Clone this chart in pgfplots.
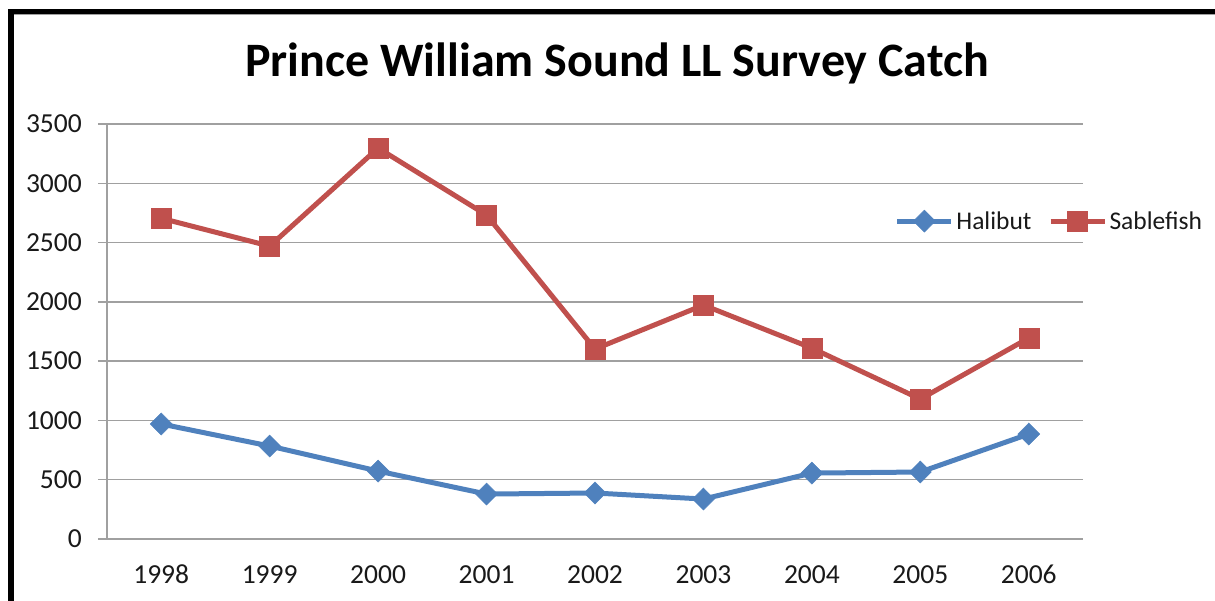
\documentclass[border=0pt]{standalone}
\usepackage{pgfplots}
\pgfplotsset{compat=1.18}
\usepackage{fontspec}
\setmainfont{Carlito}
\definecolor{hal}{RGB}{79,129,189}
\definecolor{sab}{RGB}{192,80,77}
\definecolor{gridc}{RGB}{160,160,160}
\begin{document}
\begin{tikzpicture}
\useasboundingbox (0,0) rectangle (1215bp,-601bp);
\clip (0,0) rectangle (1215bp,-601bp);
\begin{axis}[
  at={(107bp,-539bp)}, anchor=south west,
  scale only axis, width=976bp, height=415bp,
  xmin=-0.5, xmax=8.5, ymin=0, ymax=3500,
  xtick={0,...,8},
  xticklabels={1998,1999,2000,2001,2002,2003,2004,2005,2006},
  minor xtick={-0.5,0.5,...,8.5},
  ytick={0,500,...,3500},
  axis x line*=bottom, axis y line*=left,
  axis line style={gridc, line width=1.3bp, -},
  ymajorgrids, grid style={gridc, line width=1.3bp},
  tick align=outside,
  major tick length=9bp, minor tick length=10bp,
  every x tick/.style={draw=none},
  every minor tick/.style={gridc, line width=1.3bp},
  every y tick/.style={gridc, line width=1.3bp},
  /pgf/number format/assume math mode=true,
  scaled y ticks=false,
  yticklabel style={font=\fontsize{27.5bp}{31bp}\selectfont, color=black!90, inner sep=0pt, xshift=-16bp, anchor=east},
  xticklabel style={font=\fontsize{27.5bp}{31bp}\selectfont, color=black!90, inner sep=0pt, anchor=base, yshift=-35bp},
  y tick label style={/pgf/number format/1000 sep={}},
  legend columns=2,
  legend style={at={(rel axis cs:0.804,0.766)}, anchor=west, draw=none, fill=none,
    font=\fontsize{25.5bp}{29bp}\selectfont, text=black!90,
    nodes={inner sep=2.5bp},
    /tikz/every even column/.append style={column sep=14bp}},
  legend image code/.code={\draw[mark repeat=2,mark phase=2,#1] plot coordinates {(0bp,0bp)(27bp,0bp)(54bp,0bp)};},
]
\addplot[hal, line width=5bp, mark=diamond*, mark size=11bp, mark options={xscale=1.33, solid, fill=hal, draw=hal, line width=0.5bp}]
  coordinates {(0,970)(1,784)(2,573)(3,379)(4,388)(5,337)(6,556)(7,565)(8,885)};
\addlegendentry{Halibut}
\addplot[sab, line width=5bp, mark=square*, mark size=10bp, mark options={solid, fill=sab, draw=sab, line width=0.5bp}]
  coordinates {(0,2705)(1,2470)(2,3297)(3,2732)(4,1602)(5,1973)(6,1610)(7,1180)(8,1695)};
\addlegendentry{Sablefish}
\end{axis}
\node[font=\fontsize{48bp}{54bp}\selectfont\bfseries, inner sep=0pt] at (617bp,-63bp) {Prince William Sound LL Survey Catch};
\draw[black, line width=5.5bp] (11bp,-620bp) -- (11bp,-11.5bp) -- (1230bp,-11.5bp);
\draw[gridc, line width=1bp] (14bp,-14.5bp) -- (1230bp,-14.5bp);
\end{tikzpicture}
\end{document}
